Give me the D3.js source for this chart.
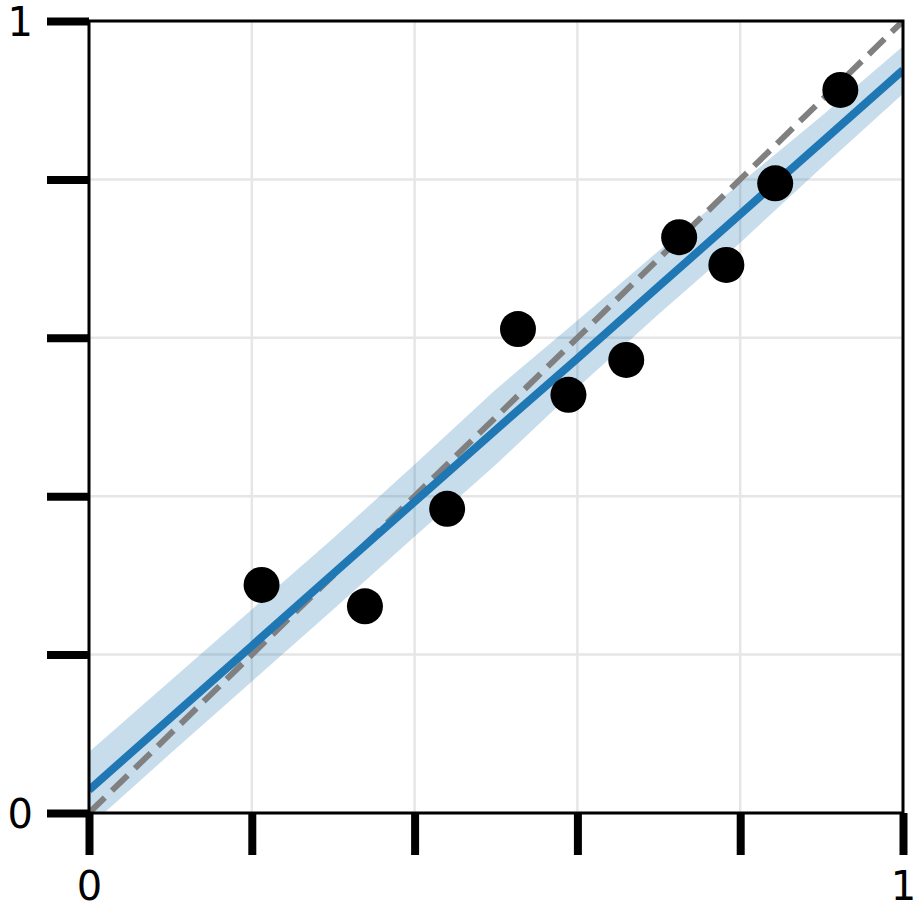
<!DOCTYPE html>
<html>
<head>
<meta charset="utf-8">
<script src="https://cdn.jsdelivr.net/npm/d3@7"></script>
<style>
  body { margin: 0; background: #fff; }
  svg { display: block; }
  text { font-family: "DejaVu Sans", sans-serif; }
</style>
</head>
<body>
<svg id="chart"></svg>
<script>
'use strict'

// observed points
var pointX = [0.212, 0.339, 0.440, 0.527, 0.589, 0.660, 0.725, 0.783, 0.843, 0.923];
var pointY = [0.288, 0.261, 0.384, 0.611, 0.528, 0.572, 0.727, 0.692, 0.795, 0.913];

// fitted line and its band
var fitX     = [0, 0.1, 0.2, 0.3, 0.4, 0.5, 0.6, 0.7, 0.8, 0.9, 1.0];
var fitY     = [0.029, 0.120, 0.211, 0.302, 0.393, 0.484, 0.574, 0.665, 0.756, 0.847, 0.938];
var bandHigh = [0.077, 0.167, 0.257, 0.347, 0.440, 0.535, 0.622, 0.710, 0.795, 0.880, 0.968];
var bandLow  = [-0.017, 0.075, 0.166, 0.257, 0.349, 0.440, 0.537, 0.630, 0.720, 0.815, 0.908];

// identity reference
var refX = [0, 1];

var gridTicks = [0, 0.2, 0.4, 0.6, 0.8, 1];
var tickLabels = { 0: "0", 1: "1" };

var width = 921, height = 916;
var margin = { left: 89, right: 18, top: 21, bottom: 103 };

var svg = d3.select("#chart")
    .attr("width", width)
    .attr("height", height);

var x = d3.scaleLinear().domain([0, 1]).range([margin.left, width - margin.right]);
var y = d3.scaleLinear().domain([0, 1]).range([height - margin.bottom, margin.top]);

svg.append("defs").append("clipPath")
    .attr("id", "plot-clip")
    .append("rect")
    .attr("x", x(0)).attr("y", y(1))
    .attr("width", x(1) - x(0)).attr("height", y(0) - y(1));

// grid
var grid = svg.append("g").attr("class", "grid");
grid.selectAll("line.gx")
    .data(gridTicks)
    .enter().append("line")
    .attr("class", "gx")
    .attr("x1", (d) => x(d)).attr("x2", (d) => x(d))
    .attr("y1", y(0)).attr("y2", y(1))
    .attr("stroke", "#e6e6e6").attr("stroke-width", 2.5);
grid.selectAll("line.gy")
    .data(gridTicks)
    .enter().append("line")
    .attr("class", "gy")
    .attr("x1", x(0)).attr("x2", x(1))
    .attr("y1", (d) => y(d)).attr("y2", (d) => y(d))
    .attr("stroke", "#e6e6e6").attr("stroke-width", 2.5);

var plot = svg.append("g").attr("clip-path", "url(#plot-clip)");

// band
var area = d3.area()
    .x((d, i) => x(fitX[i]))
    .y0((d, i) => y(bandLow[i]))
    .y1((d, i) => y(bandHigh[i]));
plot.append("path")
    .datum(fitX)
    .attr("d", area)
    .attr("fill", "#1f77b4")
    .attr("fill-opacity", 0.25);

// y = x
var line = d3.line().x((d) => x(d[0])).y((d) => y(d[1]));
plot.append("path")
    .datum(refX.map((d) => [d, d]))
    .attr("d", line)
    .attr("fill", "none")
    .attr("stroke", "#808080")
    .attr("stroke-width", 6)
    .attr("stroke-dasharray", "22,10");

// fit
plot.append("path")
    .datum(fitX.map((d, i) => [d, fitY[i]]))
    .attr("d", line)
    .attr("fill", "none")
    .attr("stroke", "#1f77b4")
    .attr("stroke-width", 8);

// points
svg.append("g")
    .selectAll("circle")
    .data(pointX)
    .enter().append("circle")
    .attr("cx", (d) => x(d))
    .attr("cy", (d, i) => y(pointY[i]))
    .attr("r", 18)
    .attr("fill", "#000");

// frame
svg.append("rect")
    .attr("x", x(0)).attr("y", y(1))
    .attr("width", x(1) - x(0)).attr("height", y(0) - y(1))
    .attr("fill", "none")
    .attr("stroke", "#000")
    .attr("stroke-width", 3);

// axes
var xAxis = d3.axisBottom(x)
    .tickValues(gridTicks)
    .tickSize(42)
    .tickPadding(17)
    .tickFormat((d) => tickLabels[d] || "");
var yAxis = d3.axisLeft(y)
    .tickValues(gridTicks)
    .tickSize(42)
    .tickPadding(14)
    .tickFormat((d) => tickLabels[d] || "");

var gx = svg.append("g")
    .attr("transform", `translate(0,${y(0)})`)
    .call(xAxis);
var gy = svg.append("g")
    .attr("transform", `translate(${x(0)},0)`)
    .call(yAxis);

[gx, gy].forEach((g) => {
    g.select(".domain").remove();
    g.selectAll(".tick line").attr("stroke", "#000").attr("stroke-width", 8);
    g.selectAll(".tick text")
        .attr("fill", "#000")
        .style("font-size", "40px")
        .style("font-family", "DejaVu Sans, sans-serif");
});
gx.selectAll(".tick text").attr("dy", "0.71em");
gy.selectAll(".tick text").attr("dy", "0.35em");
</script>
</body>
</html>
